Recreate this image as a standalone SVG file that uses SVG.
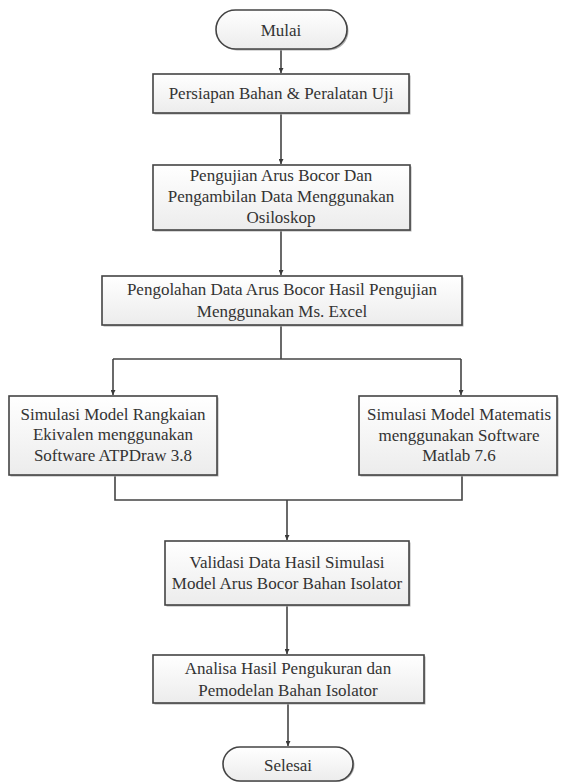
<svg xmlns="http://www.w3.org/2000/svg" width="561" height="782" viewBox="0 0 561 782">
<defs>
<linearGradient id="g" x1="0" y1="0" x2="0" y2="1"><stop offset="0" stop-color="#ffffff"/><stop offset="1" stop-color="#ececec"/></linearGradient>
<marker id="ah" viewBox="0 0 10 10" refX="10" refY="5" markerWidth="5" markerHeight="5" orient="auto" markerUnits="userSpaceOnUse"><path d="M0,0 L10,5 L0,10 z" fill="#3a3a3a"/></marker>
</defs>
<style>
.sh{fill:#b0b0b0;stroke:none}
.bx{fill:url(#g);stroke:#444;stroke-width:1.6}
.t{font-size:17px;fill:#333;text-anchor:middle}
.c{fill:none;stroke:#444;stroke-width:1.6}
.ca{fill:none;stroke:#444;stroke-width:1.6;marker-end:url(#ah)}
</style>
<rect width="561" height="782" fill="#fff"/>
<g id="connectors">
<line class="ca" x1="281" y1="49" x2="281" y2="73"/>
<line class="ca" x1="281" y1="113" x2="281" y2="164"/>
<line class="ca" x1="281" y1="230" x2="281" y2="275"/>
<polyline class="c" points="281,325 281,359"/>
<polyline class="ca" points="113,359 113,395"/>
<polyline class="ca" points="461,359 461,395"/>
<line class="c" x1="113" y1="359" x2="461" y2="359"/>
<polyline class="c" points="115,475 115,500 462,500 462,475"/>
<line class="ca" x1="287" y1="500" x2="287" y2="540"/>
<line class="ca" x1="287" y1="605" x2="287" y2="654"/>
<line class="ca" x1="288" y1="703" x2="288" y2="746"/>
</g>
<g font-family="Liberation Serif">
<g id="mulai">
<rect class="sh" x="217.5" y="11.5" width="131" height="39" rx="19.5"/>
<rect class="bx" x="216" y="10" width="131" height="39" rx="19.5"/>
<text class="t" x="281" y="36">Mulai</text>
</g>
<g id="persiapan">
<rect class="sh" x="154.5" y="75.5" width="256" height="39"/>
<rect class="bx" x="153" y="74" width="256" height="39"/>
<text class="t" x="281" y="99">Persiapan Bahan &amp; Peralatan Uji</text>
</g>
<g id="pengujian">
<rect class="sh" x="154.5" y="166.5" width="257" height="65"/>
<rect class="bx" x="153" y="165" width="257" height="65"/>
<text class="t" x="281" y="181">Pengujian Arus Bocor Dan</text>
<text class="t" x="281" y="202">Pengambilan Data Menggunakan</text>
<text class="t" x="281" y="223">Osiloskop</text>
</g>
<g id="pengolahan">
<rect class="sh" x="103.5" y="277.5" width="360" height="49"/>
<rect class="bx" x="102" y="276" width="360" height="49"/>
<text class="t" x="282" y="295">Pengolahan Data Arus Bocor Hasil Pengujian</text>
<text class="t" x="282" y="317">Menggunakan Ms. Excel</text>
</g>
<g id="simulasi-rangkaian">
<rect class="sh" x="10.5" y="397.5" width="208" height="79"/>
<rect class="bx" x="9" y="396" width="208" height="79"/>
<text class="t" x="113" y="420">Simulasi Model Rangkaian</text>
<text class="t" x="113" y="440">Ekivalen menggunakan</text>
<text class="t" x="113" y="461">Software ATPDraw 3.8</text>
</g>
<g id="simulasi-matematis">
<rect class="sh" x="360.5" y="397.5" width="198" height="79"/>
<rect class="bx" x="359" y="396" width="198" height="79"/>
<text class="t" x="459" y="420">Simulasi Model Matematis</text>
<text class="t" x="459" y="441">menggunakan Software</text>
<text class="t" x="459" y="461">Matlab 7.6</text>
</g>
<g id="validasi">
<rect class="sh" x="166.5" y="542.5" width="244" height="64"/>
<rect class="bx" x="165" y="541" width="244" height="64"/>
<text class="t" x="287" y="568">Validasi Data Hasil Simulasi</text>
<text class="t" x="287" y="589">Model Arus Bocor Bahan Isolator</text>
</g>
<g id="analisa">
<rect class="sh" x="154.5" y="656.5" width="271" height="48"/>
<rect class="bx" x="153" y="655" width="271" height="48"/>
<text class="t" x="288" y="674">Analisa Hasil Pengukuran dan</text>
<text class="t" x="288" y="696">Pemodelan Bahan Isolator</text>
</g>
<g id="selesai">
<rect class="sh" x="224.5" y="748.5" width="130" height="33" rx="16.5"/>
<rect class="bx" x="223" y="747" width="130" height="34" rx="17"/>
<text class="t" x="288" y="771">Selesai</text>
</g>
</g>
</svg>
